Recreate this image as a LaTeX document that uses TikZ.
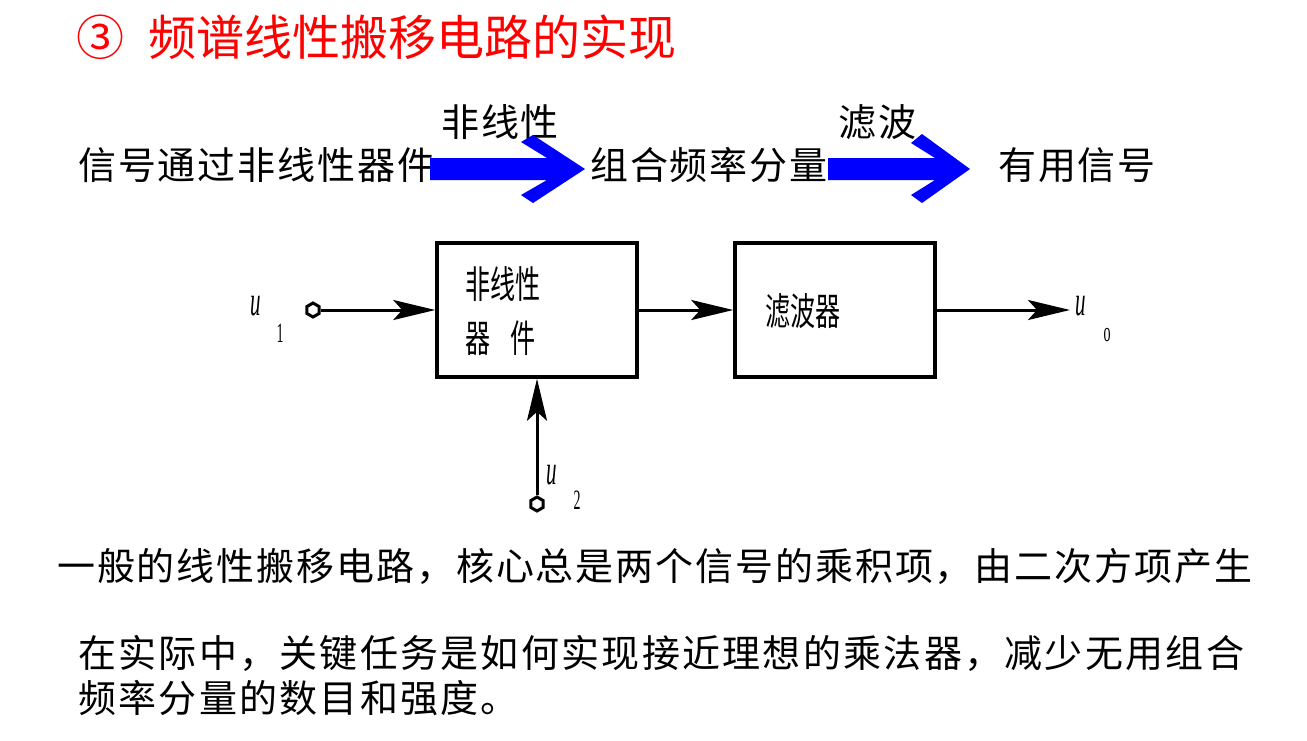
\documentclass[tikz,border=0pt]{standalone}
\usepackage{fontspec}
\setmainfont{Liberation Serif}
\newfontfamily\cjk{Noto Sans CJK SC}
\newfontfamily\cjkls{Noto Sans CJK SC}[LetterSpace=5]
\newfontfamily\condserif{Liberation Serif}
\usetikzlibrary{arrows.meta,shapes.geometric}
\definecolor{titlered}{RGB}{255,0,0}
\definecolor{arrowblue}{RGB}{0,0,255}
\begin{document}
\begin{tikzpicture}[x=1pt,y=-1pt,
  txt/.style={inner sep=0pt, anchor=west, font=\cjkls\fontsize{38}{40}\selectfont},
  boxlab/.style={inner sep=0pt, anchor=west, align=left, font=\cjk\fontsize{38}{54}\selectfont},
  blockbox/.style={draw, line width=3.5pt, minimum width=200pt, minimum height=134pt, inner sep=0pt},
  wire/.style={line width=3pt, -{Stealth[length=42pt,width=20pt,inset=9pt]}},
  term/.style={regular polygon, regular polygon sides=6, shape border rotate=30, draw, line width=3pt, minimum size=14pt, inner sep=0pt, fill=white},
  uvar/.style={inner sep=0pt, font=\condserif\itshape\fontsize{42}{42}\selectfont},
  usub/.style={inner sep=0pt, font=\condserif\fontsize{28}{28}\selectfont},
  bigarrow/.style={fill=arrowblue}
]
\useasboundingbox (0,0) rectangle (1307,740);

% title
\node[inner sep=0pt, anchor=west, text=titlered, font=\cjk\fontsize{48}{50}\selectfont] (title) at (76,37) {③\hspace{24pt}频谱线性搬移电路的实现};

% top row
\node[txt] (t1) at (78,165) {信号通过非线性器件};
\node[txt] (t2) at (441,122) {非线性};
\node[txt] (t3) at (590,165) {组合频率分量};
\node[txt] (t4) at (838,122) {滤波};
\node[txt] (t5) at (998,165) {有用信号};

\fill[bigarrow] (430,158) -- (547,158) -- (521,142) -- (533,135) -- (585,169) -- (533,203) -- (521,195) -- (547,180) -- (430,180) -- cycle;
\fill[bigarrow] (828,158) -- (935,158) -- (911,143) -- (922,134) -- (970,169) -- (922,203) -- (911,195) -- (935,180) -- (828,180) -- cycle;

% block diagram
\node[blockbox] (b1) at (537,310) {};
\node[blockbox] (b2) at (835,310) {};
\node[boxlab] (l1) at (465,311) {\scalebox{0.66}[1]{非线性}\\\scalebox{0.66}[1]{器\hspace{30pt}件}};
\node[inner sep=0pt, anchor=west, font=\cjk\fontsize{38}{40}\selectfont] (l2) at (765,311) {\scalebox{0.66}[1]{滤波器}};

\node[term] (in1) at (313,310) {};
\node[term] (in2) at (537,504) {};
\coordinate (out) at (1070,310);

\draw[wire] (in1.east) -- (b1.west);
\draw[wire] (b1.east) -- (b2.west);
\draw[wire] (b2.east) -- (out);
\draw[wire] (in2.north) -- (b1.south);

\node[uvar] (u1) at (256,306) {\scalebox{0.5}[1]{u}};
\node[usub] (s1) at (280,333) {\scalebox{0.5}[1]{1}};
\node[uvar] (u2) at (552,475) {\scalebox{0.5}[1]{u}};
\node[usub] (s2) at (577,500) {\scalebox{0.5}[1]{2}};
\node[uvar] (u3) at (1081,306) {\scalebox{0.5}[1]{u}};
\node[usub] (s3) at (1107,335) {\scalebox{0.5}[1]{o}};

% bottom text
\node[txt] (p1) at (57,566) {一般的线性搬移电路，核心总是两个信号的乘积项，由二次方项产生};
\node[txt] (p2) at (78,653) {\addfontfeature{LetterSpace=6}在实际中，关键任务是如何实现接近理想的乘法器，减少无用组合};
\node[txt] (p3) at (78,698) {\addfontfeature{LetterSpace=6}频率分量的数目和强度。};
\end{tikzpicture}
\end{document}
